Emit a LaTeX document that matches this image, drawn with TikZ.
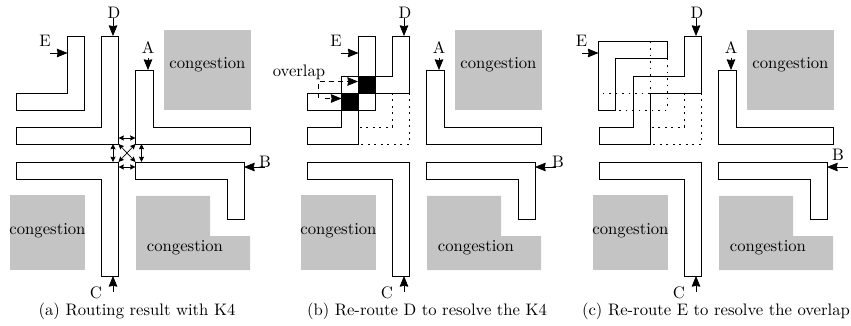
\documentclass[tikz,border=0pt]{standalone}
\usetikzlibrary{arrows.meta}
\definecolor{blockgray}{RGB}{196,196,197}
\tikzset{
  wire/.style={draw,line width=0.55pt,line join=miter},
  oldwire/.style={draw,line width=0.55pt,dash pattern=on 1pt off 2.9pt},
  block/.style={fill=blockgray},
  pin/.style={draw,line width=0.4pt,-{Stealth[length=6.4pt,width=5.2pt,inset=0.5pt]}},
  kfour/.style={draw,line width=0.4pt,{Stealth[length=3.2pt,width=3pt,inset=0.4pt]}-{Stealth[length=3.2pt,width=3pt,inset=0.4pt]}},
  note/.style={draw,line width=0.45pt,dash pattern=on 3pt off 2.4pt,-{Stealth[length=6.4pt,width=5.2pt,inset=0.5pt]}},
  lbl/.style={inner sep=0pt}
}
\begin{document}
\begin{tikzpicture}[x=0.6pt,y=-0.6pt]
  \useasboundingbox (0,0) rectangle (851,326);
  \foreach \px/\pn/\bx/\by/\cx/\cap in {0/a/265/162/137/{(a) Routing result with K4},
      291/b/267/162/136/{(b) Re-route D to resolve the K4},
      583/c/255/155/133/{(c) Re-route E to resolve the overlap}}
  {
    \begin{scope}[shift={(\px,0)}]
      % congestion
      \fill[block] (164,30) rectangle (251,110);
      \fill[block] (10,195) rectangle (85,270);
      \fill[block] (136,196) -- (210,196) -- (210,236) -- (250,236) -- (250,270) -- (136,270) -- cycle;
      \node[lbl] (\pn top) at (207.5,65) {congestion};
      \node[lbl] (\pn left) at (47.5,231) {congestion};
      \node[lbl] (\pn right) at (185,248) {congestion};
      % wires A, C, B
      \draw[wire] (135.5,70) -- (153,70) -- (153,127) -- (250,127) -- (250,144) -- (135.5,144) -- cycle;
      \draw[wire] (16,162) -- (118.5,162) -- (118.5,276) -- (101.5,276) -- (101.5,179) -- (16,179) -- cycle;
      \draw[wire] (135.5,162) -- (244,162) -- (244,219) -- (227,219) -- (227,179) -- (135.5,179) -- cycle;
      % pins
      \node[lbl] (\pn A) at (148,48) {A};
      \node[lbl] (\pn C) at (96,293) {C};
      \node[lbl] (\pn D) at (114,13) {D};
      \node[lbl] (\pn B) at (\bx,\by) {B};
      \coordinate (\pn a0) at (148,58);
      \coordinate (\pn a1) at (148,70);
      \coordinate (\pn b0) at (265,167);
      \coordinate (\pn b1) at (244,167);
      \coordinate (\pn c0) at (113,292);
      \coordinate (\pn c1) at (113,276);
      \coordinate (\pn d0) at (113,18);
      \coordinate (\pn d1) at (113,36);
      \draw[pin] (\pn a0) -- (\pn a1);
      \draw[pin] (\pn b0) -- (\pn b1);
      \draw[pin] (\pn c0) -- (\pn c1);
      \draw[pin] (\pn d0) -- (\pn d1);
      \node[lbl] (\pn cap) at (\cx,311) {\cap};
    \end{scope}
  }
  % (a)
  \begin{scope}
    \draw[wire] (101.5,36) -- (118.5,36) -- (118.5,144) -- (16,144) -- (16,127) -- (101.5,127) -- cycle;
    \draw[wire] (67.5,36) -- (84,36) -- (84,110) -- (16,110) -- (16,93) -- (67.5,93) -- cycle;
    \node[lbl] (aE) at (45,41) {E};
    \coordinate (ae0) at (50,53);
    \coordinate (ae1) at (67.5,53);
    \draw[pin] (ae0) -- (ae1);
    \coordinate (nw) at (118.5,144);
    \coordinate (ne) at (135.5,144);
    \coordinate (sw) at (118.5,162);
    \coordinate (se) at (135.5,162);
    \coordinate (t0) at (118.5,138);
    \coordinate (t1) at (135.5,138);
    \coordinate (u0) at (118.5,167);
    \coordinate (u1) at (135.5,167);
    \coordinate (l0) at (113,144);
    \coordinate (l1) at (113,162);
    \coordinate (r0) at (141.5,144);
    \coordinate (r1) at (141.5,162);
    \draw[kfour] (nw) -- (se);
    \draw[kfour] (ne) -- (sw);
    \draw[kfour] (t0) -- (t1);
    \draw[kfour] (u0) -- (u1);
    \draw[kfour] (l0) -- (l1);
    \draw[kfour] (r0) -- (r1);
  \end{scope}
  % (b)
  \begin{scope}[shift={(291,0)}]
    \fill (67.5,76) rectangle (84,93);
    \fill (50.7,93) rectangle (67.5,110);
    \draw[wire] (101.5,36) -- (118.5,36) -- (118.5,93) -- (67.5,93) -- (67.5,144) -- (16,144) -- (16,127) -- (50.7,127) -- (50.7,76) -- (101.5,76) -- cycle;
    \draw[wire] (67.5,36) -- (84,36) -- (84,110) -- (16,110) -- (16,93) -- (67.5,93) -- cycle;
    \draw[oldwire] (101.5,93) -- (101.5,127) -- (67.5,127);
    \draw[oldwire] (118.5,93) -- (118.5,144) -- (67.5,144);
    \node[lbl] (bE) at (45,41) {E};
    \coordinate (be0) at (50,53);
    \coordinate (be1) at (67.5,53);
    \draw[pin] (be0) -- (be1);
    \node[lbl] (overlap) at (8,72) {overlap};
    \coordinate (o0) at (27,98);
    \coordinate (o1) at (27,81.5);
    \coordinate (o2) at (67,81.5);
    \coordinate (o3) at (34,98.5);
    \coordinate (o4) at (50.5,98.5);
    \draw[note] (o0) -- (o1) -- (o2);
    \draw[note] (o3) -- (o4);
  \end{scope}
  % (c)
  \begin{scope}[shift={(583,0)}]
    \draw[wire] (101.5,36) -- (118.5,36) -- (118.5,93) -- (67.5,93) -- (67.5,144) -- (16,144) -- (16,127) -- (50.7,127) -- (50.7,76) -- (101.5,76) -- cycle;
    \draw[wire] (15.5,41.7) -- (84,41.7) -- (84,58.7) -- (32.7,58.7) -- (32.7,110) -- (15.5,110) -- cycle;
    \draw[oldwire] (101.5,93) -- (101.5,127) -- (67.5,127);
    \draw[oldwire] (118.5,93) -- (118.5,144) -- (67.5,144);
    \draw[oldwire] (67.5,41.7) -- (67.5,93) -- (15.5,93);
    \draw[oldwire] (84,58.7) -- (84,110) -- (15.5,110);
    \node[lbl] (cE) at (-1.5,41) {E};
    \coordinate (ce0) at (-1,53);
    \coordinate (ce1) at (15.5,53);
    \draw[pin] (ce0) -- (ce1);
  \end{scope}
\end{tikzpicture}
\end{document}
